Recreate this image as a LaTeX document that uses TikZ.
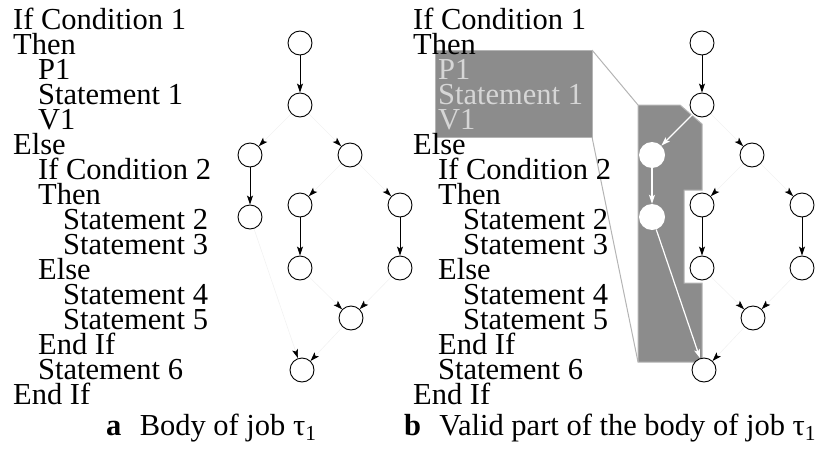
\documentclass[tikz,border=0pt]{standalone}
\usepackage{fontspec}
\setmainfont{Liberation Serif}
\usetikzlibrary{arrows.meta}
\definecolor{validgray}{HTML}{8C8C8C}
\definecolor{edgegray}{HTML}{B4B4B4}
\definecolor{paletext}{HTML}{D6D6D6}
\tikzset{
  code/.style={anchor=base west, inner sep=0pt, text height=17pt, text depth=5pt,
    font=\fontsize{30.5}{25}\selectfont},
  vtx/.style={circle, draw, fill=white, minimum size=24pt, inner sep=0pt, line width=0.9pt},
  vvtx/.style={circle, fill=white, minimum size=26pt, inner sep=0pt},
  flow/.style={line width=0.9pt, -{Stealth[length=9pt,width=6pt,inset=2pt]}},
  faint/.style={draw=black!5, line width=0.6pt, -{Stealth[black,length=9pt,width=6pt,inset=2pt]}},
  vflow/.style={draw=white, line width=1.2pt, -{Stealth[white,length=9pt,width=6pt,inset=2pt]}},
  varea/.style={fill=validgray, draw=edgegray, line width=1pt}
}
\begin{document}
\begin{tikzpicture}[x=1pt,y=-1pt]
  \useasboundingbox (0,0) rectangle (824,463);
  % program text, left
  \foreach \ind/\txt [count=\i] in {0/If Condition 1, 0/Then, 1/P1, 1/Statement 1, 1/V1,
      0/Else, 1/If Condition 2, 1/Then, 2/Statement 2, 2/Statement 3, 1/Else,
      2/Statement 4, 2/Statement 5, 1/End If, 1/Statement 6, 0/End If}
    \node[code] (la\i) at (13+25*\ind, 4.5+25*\i) {\txt};
  % valid part, right
  \draw[varea] (435,50) rectangle (592,137);
  \draw[varea] (638,105) -- (680,105) -- (702,124) -- (702,190) -- (684,190)
    -- (684,283) -- (702,283) -- (702,362) -- (638,362) -- cycle;
  \draw[edgegray, line width=1pt] (592,50) -- (638,105);
  \draw[edgegray, line width=1pt] (592,137) -- (638,362);
  % program text, right
  \foreach \ind/\col/\txt [count=\i] in {0/black/If Condition 1, 0/black/Then,
      1/paletext/P1, 1/paletext/Statement 1, 1/paletext/V1,
      0/black/Else, 1/black/If Condition 2, 1/black/Then, 2/black/Statement 2,
      2/black/Statement 3, 1/black/Else, 2/black/Statement 4, 2/black/Statement 5,
      1/black/End If, 1/black/Statement 6, 0/black/End If}
    \node[code, text=\col] (lb\i) at (413+25*\ind, 4.5+25*\i) {\txt};

  % graph a
  \node[vtx] (a1) at (300,43) {};
  \node[vtx] (a2) at (300,105) {};
  \node[vtx] (a3) at (250,155) {};
  \node[vtx] (a4) at (350,155) {};
  \node[vtx] (a5) at (250,217) {};
  \node[vtx] (a6) at (300,205) {};
  \node[vtx] (a7) at (400,205) {};
  \node[vtx] (a8) at (300,268) {};
  \node[vtx] (a9) at (400,268) {};
  \node[vtx] (a10) at (351,318) {};
  \node[vtx] (a11) at (302,370) {};
  \draw[flow] (a1) -- (a2);
  \draw[faint] (a2) -- (a3);
  \draw[faint] (a2) -- (a4);
  \draw[flow] (a3) -- (a5);
  \draw[faint] (a4) -- (a6);
  \draw[faint] (a4) -- (a7);
  \draw[flow] (a6) -- (a8);
  \draw[flow] (a7) -- (a9);
  \draw[faint] (a8) -- (a10);
  \draw[faint] (a9) -- (a10);
  \draw[faint] (a5) -- (a11);
  \draw[faint] (a10) -- (a11);

  % graph b
  \node[vtx] (b1) at (702,43) {};
  \node[vtx] (b2) at (702,105) {};
  \node[vvtx] (b3) at (652,155) {};
  \node[vtx] (b4) at (752,155) {};
  \node[vvtx] (b5) at (652,217) {};
  \node[vtx] (b6) at (702,205) {};
  \node[vtx] (b7) at (802,205) {};
  \node[vtx] (b8) at (702,268) {};
  \node[vtx] (b9) at (802,268) {};
  \node[vtx] (b10) at (753,318) {};
  \node[vtx] (b11) at (704,370) {};
  \draw[flow] (b1) -- (b2);
  \draw[vflow] (b2) -- (b3);
  \draw[faint] (b2) -- (b4);
  \draw[vflow] (b3) -- (b5);
  \draw[faint] (b4) -- (b6);
  \draw[faint] (b4) -- (b7);
  \draw[flow] (b6) -- (b8);
  \draw[flow] (b7) -- (b9);
  \draw[faint] (b8) -- (b10);
  \draw[faint] (b9) -- (b10);
  \draw[vflow] (b5) -- (b11);
  \draw[faint] (b10) -- (b11);

  % captions
  \node[code] (capa) at (106,435) {\textbf{a}\hspace{0.6em}Body of job τ\textsubscript{1}};
  \node[code] (capb) at (404,435) {\textbf{b}\hspace{0.6em}Valid part of the body of job τ\textsubscript{1}};
\end{tikzpicture}
\end{document}
